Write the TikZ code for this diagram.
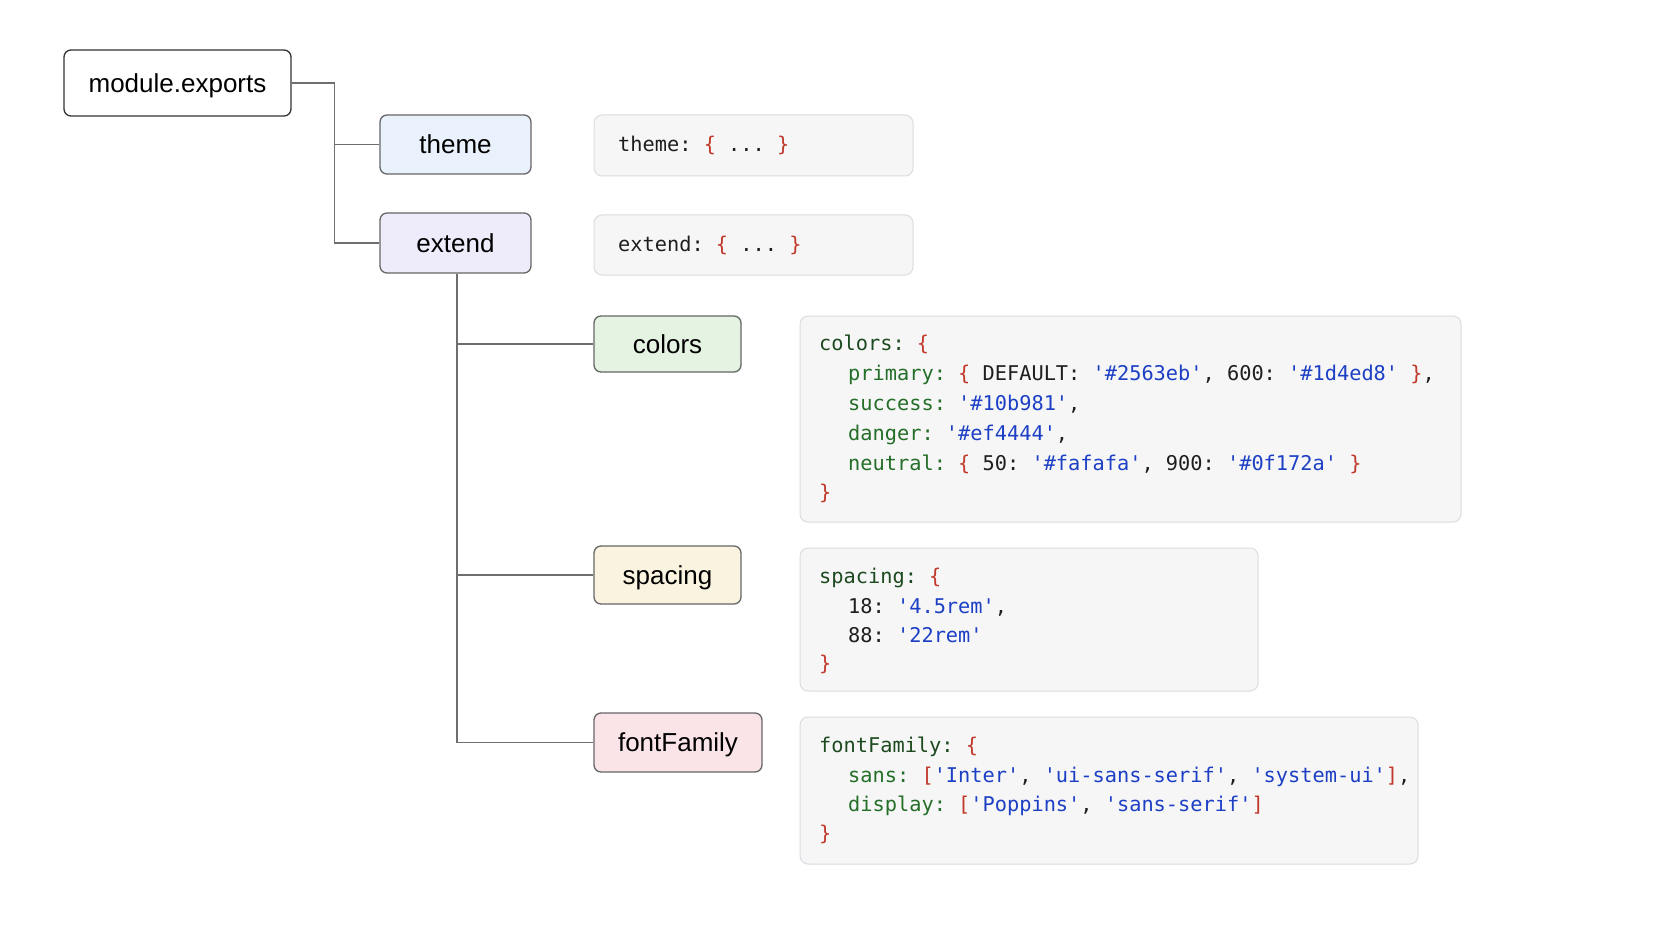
\documentclass[tikz,border=0pt]{standalone}
\usepackage{fontspec}
\setmonofont{DejaVu Sans Mono}
\newfontfamily\labelfont{Liberation Sans}
\definecolor{nodeborder}{HTML}{666666}
\definecolor{modborder}{HTML}{333333}
\definecolor{connector}{HTML}{6E6E6E}
\definecolor{codeborder}{HTML}{DCDCE2}
\definecolor{codefill}{HTML}{F6F6F7}
\definecolor{themefill}{HTML}{E8F1FC}
\definecolor{extendfill}{HTML}{EEEBFA}
\definecolor{colorsfill}{HTML}{E5F3E3}
\definecolor{spacingfill}{HTML}{FAF3E0}
\definecolor{fontfill}{HTML}{FAE4E8}
\definecolor{codeblack}{HTML}{1E1E1E}
\definecolor{topkey}{HTML}{1C4A1E}
\definecolor{subkey}{HTML}{246E28}
\definecolor{bracered}{HTML}{C0392B}
\definecolor{strblue}{HTML}{1C3FC4}
\newcommand\ktop[1]{\textcolor{topkey}{#1}}
\newcommand\ksub[1]{\textcolor{subkey}{#1}}
\newcommand\brc[1]{\textcolor{bracered}{#1}}
\newcommand\str[1]{\textcolor{strblue}{#1}}
\tikzset{
  lbl/.style={draw=nodeborder, line width=1.3pt, rounded corners=7pt,
    font=\labelfont\fontsize{26}{30}\selectfont, text=black, inner sep=0pt,
    text height=18.9pt, text depth=0pt},
  codebox/.style={draw=codeborder, fill=codefill, line width=1pt, rounded corners=8pt, inner sep=0pt},
  code/.style={anchor=base west, inner sep=0pt, font=\ttfamily\fontsize{20.3}{24}\selectfont, text=codeblack},
  conn/.style={draw=connector, line width=1.3pt},
}
\begin{document}
\begin{tikzpicture}[x=1pt,y=-1pt]
\useasboundingbox (0,0) rectangle (1672,941);
\fill[white] (0,0) rectangle (1672,941);

% tree nodes
\node[lbl, draw=modborder, fill=white, minimum width=227pt, minimum height=66pt] (mod) at (177.5,83) {module.exports};
\node[lbl, fill=themefill, minimum width=151pt, minimum height=59pt] (theme) at (455.5,144.5) {theme};
\node[lbl, fill=extendfill, minimum width=151pt, minimum height=60pt] (extend) at (455.5,243) {extend};
\node[lbl, fill=colorsfill, minimum width=147pt, minimum height=56pt] (colors) at (667.5,344) {colors};
\node[lbl, fill=spacingfill, minimum width=147pt, minimum height=58pt] (spacing) at (667.5,575) {spacing};
\node[lbl, fill=fontfill, minimum width=168pt, minimum height=59pt] (fontfam) at (678,742.5) {fontFamily};

% connectors
\draw[conn] (mod.east) -- ++(43,0) coordinate (j1) |- (theme.west);
\draw[conn] (j1) |- (extend.west);
\coordinate (j2) at ([xshift=1.5pt]extend.south);
\draw[conn] (j2) |- (colors.west);
\draw[conn] (j2) |- (spacing.west);
\draw[conn] (j2) |- (fontfam.west);

% code boxes
\node[codebox, minimum width=319pt, minimum height=61pt] (themecode) at (753.5,145.5) {};
\node[codebox, minimum width=319pt, minimum height=60pt] (extendcode) at (753.5,245) {};
\node[codebox, minimum width=661pt, minimum height=206pt] (colorscode) at (1130.5,419) {};
\node[codebox, minimum width=458pt, minimum height=143pt] (spacingcode) at (1029,619.5) {};
\node[codebox, minimum width=618pt, minimum height=147pt] (fontcode) at (1109,790.5) {};

% code text
\node[code] (tc1) at (618,152) {theme: \brc{\{} ... \brc{\}}};
\node[code] (ec1) at (618,252) {extend: \brc{\{} ... \brc{\}}};

\node[code] (cc1) at (819,350) {\ktop{colors:} \brc{\{}};
\node[code] (cc2) at (848,380) {\ksub{primary:} \brc{\{} DEFAULT: \str{'\#2563eb'}, 600: \str{'\#1d4ed8'} \brc{\}},};
\node[code] (cc3) at (848,410) {\ksub{success:} \str{'\#10b981'},};
\node[code] (cc4) at (848,440) {\ksub{danger:} \str{'\#ef4444'},};
\node[code] (cc5) at (848,470) {\ksub{neutral:} \brc{\{} 50: \str{'\#fafafa'}, 900: \str{'\#0f172a'} \brc{\}}};
\node[code] (cc6) at (819,499) {\brc{\}}};

\node[code] (sc1) at (819,583) {\ktop{spacing:} \brc{\{}};
\node[code] (sc2) at (848,613) {18: \str{'4.5rem'},};
\node[code] (sc3) at (848,642.5) {88: \str{'22rem'}};
\node[code] (sc4) at (819,670) {\brc{\}}};

\node[code] (fc1) at (819,752) {\ktop{fontFamily:} \brc{\{}};
\node[code] (fc2) at (848,782) {\ksub{sans:} \brc{[}\str{'Inter'}, \str{'ui-sans-serif'}, \str{'system-ui'}\brc{]},};
\node[code] (fc3) at (848,811) {\ksub{display:} \brc{[}\str{'Poppins'}, \str{'sans-serif'}\brc{]}};
\node[code] (fc4) at (819,840) {\brc{\}}};
\end{tikzpicture}
\end{document}
